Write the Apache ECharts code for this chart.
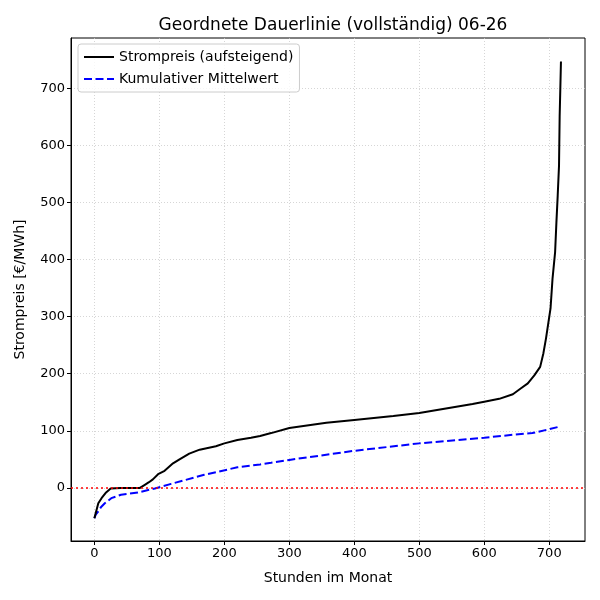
<!DOCTYPE html>
<html>
<head>
    <meta http-equiv="Content-Type" content="text/html; charset=utf-8" />
    <script type="text/javascript" src="https://cdn.jsdelivr.net/npm/echarts@6/dist/echarts.min.js"></script>
</head>
<body style="margin:0">
<div id="main" style="width: 600px;height:600px;"></div>
</body>
<script type="text/javascript">
    // Strompreis, aufsteigend sortiert (Stunde, Wert)
    var priceHours = [0, 3, 6, 11, 18, 25, 40, 55, 70, 77, 84, 90, 98, 108, 121, 131, 146, 162, 187, 200, 220, 241, 255, 272, 300, 357, 400, 460, 500, 541, 582, 600, 623, 644, 656, 667, 677, 686, 691, 695, 702, 705, 709, 711, 713, 715, 716, 717, 718];
    var prices = [-53, -40, -27, -18, -8, -1, 0, 0, 0, 5, 10, 15, 24, 30, 43, 50, 60, 67, 73, 78, 84, 88, 91, 96, 105, 114, 119, 126, 131, 139, 147, 151, 156, 164, 174, 183, 197, 212, 236, 262, 315, 366, 413, 465, 512, 564, 651, 698, 747];

    // kumulativer Mittelwert
    var meanHours = [0, 2, 6, 10, 16, 26, 41, 67, 93, 118, 169, 220, 255, 272, 300, 400, 500, 600, 644, 674, 697, 718];
    var means = [-53, -47, -41, -34, -27, -18, -12, -8, -1, 7, 23, 36, 41, 44, 49, 65, 78, 88, 93, 96, 102, 108];

    var xTicks = [0, 100, 200, 300, 400, 500, 600, 700];
    var yTicks = [0, 100, 200, 300, 400, 500, 600, 700];

    function paare(xs, ys) {
        var out = [];
        for (var i = 0; i < xs.length; i++) {
            out.push([xs[i], ys[i]]);
        }
        return out;
    }

    var schrift = 'DejaVu Sans';
    var myChart = echarts.init(document.getElementById('main'));

    var option = {
        animation: false,
        backgroundColor: '#fff',
        title: {
            text: 'Geordnete Dauerlinie (vollständig) 06-26',
            left: 328,
            top: 12,
            textAlign: 'center',
            textStyle: {fontFamily: schrift, fontSize: 17, fontWeight: 'normal', color: '#000'}
        },
        legend: {
            orient: 'vertical',
            left: 78,
            top: 44,
            itemWidth: 30,
            itemHeight: 10,
            itemGap: 8,
            padding: [6, 6, 6, 5],
            borderColor: '#cccccc',
            borderWidth: 1,
            borderRadius: 3,
            backgroundColor: 'rgba(255,255,255,0.8)',
            itemStyle: {opacity: 0},
            textStyle: {fontFamily: schrift, fontSize: 14, color: '#000'},
            data: ['Strompreis (aufsteigend)', 'Kumulativer Mittelwert']
        },
        grid: {
            left: 71,
            right: 15,
            top: 38,
            bottom: 59,
            show: true,
            borderColor: '#000',
            borderWidth: 1
        },
        xAxis: {
            type: 'value',
            min: -36,
            max: 755,
            name: 'Stunden im Monat',
            nameLocation: 'middle',
            nameGap: 30,
            nameTextStyle: {fontFamily: schrift, fontSize: 14, color: '#000'},
            axisLine: {show: true, onZero: false, lineStyle: {color: '#000'}},
            axisTick: {show: true, length: 4, customValues: xTicks, lineStyle: {color: '#000'}},
            axisLabel: {customValues: xTicks, fontFamily: schrift, fontSize: 13, color: '#000', margin: 6},
            splitLine: {show: true, lineStyle: {color: '#cccccc', type: [1, 2], width: 0.8}}
        },
        yAxis: {
            type: 'value',
            min: -93,
            max: 788,
            name: 'Strompreis [€/MWh]',
            nameLocation: 'middle',
            nameGap: 44,
            nameTextStyle: {fontFamily: schrift, fontSize: 14, color: '#000'},
            axisLine: {show: true, onZero: false, lineStyle: {color: '#000'}},
            axisTick: {show: true, length: 4, customValues: yTicks, lineStyle: {color: '#000'}},
            axisLabel: {customValues: yTicks, fontFamily: schrift, fontSize: 13, color: '#000', margin: 6},
            splitLine: {show: true, lineStyle: {color: '#cccccc', type: [1, 2], width: 0.8}}
        },
        series: [
            {
                name: 'Strompreis (aufsteigend)',
                type: 'line',
                showSymbol: false,
                symbol: 'none',
                color: '#000',
                lineStyle: {color: '#000', width: 2},
                data: paare(priceHours, prices),
                markLine: {
                    silent: true,
                    symbol: ['none', 'none'],
                    label: {show: false},
                    lineStyle: {color: '#ff0000', type: [2, 3], width: 1.6},
                    data: [{yAxis: 0}]
                },
                z: 3
            },
            {
                name: 'Kumulativer Mittelwert',
                type: 'line',
                showSymbol: false,
                symbol: 'none',
                color: '#0000ff',
                lineStyle: {color: '#0000ff', width: 2, type: [8, 3.5]},
                data: paare(meanHours, means),
                z: 2
            }
        ]
    };

    myChart.setOption(option);
</script>
</html>
